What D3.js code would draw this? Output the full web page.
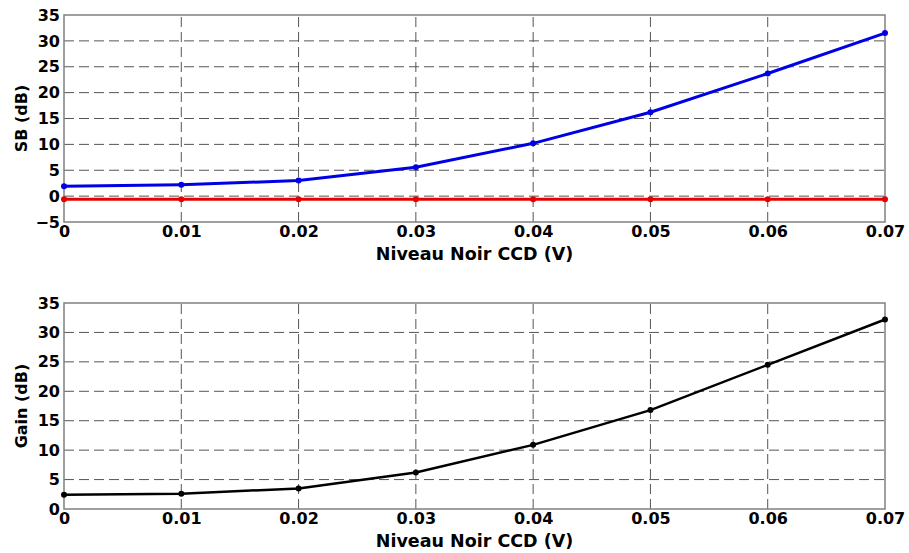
<!DOCTYPE html>
<html>
<head>
<meta charset="utf-8">
<script src="https://cdn.jsdelivr.net/npm/d3@7"></script>
<style>
  body { margin: 0; background: #fff; }
  svg { display: block; }
  text { font-family: "DejaVu Sans", Arial, sans-serif; font-weight: bold; }
</style>
</head>
<body>
<div id="chart"></div>
<script>
// Données
const niveauNoir = [0, 0.01, 0.02, 0.03, 0.04, 0.05, 0.06, 0.07];
const sbBleu = [1.9, 2.2, 3.0, 5.6, 10.2, 16.2, 23.7, 31.5];
const sbRouge = [-0.6, -0.6, -0.6, -0.6, -0.6, -0.6, -0.6, -0.6];
const gainNoir = [2.4, 2.6, 3.5, 6.2, 10.9, 16.8, 24.5, 32.2];
const xTicks = [0, 0.01, 0.02, 0.03, 0.04, 0.05, 0.06, 0.07];
const yTicksSB = [-5, 0, 5, 10, 15, 20, 25, 30, 35];
const yTicksGain = [0, 5, 10, 15, 20, 25, 30, 35];

const width = 909;
const height = 553;

const svg = d3.select("#chart")
    .append("svg")
    .attr("width", width)
    .attr("height", height);

function drawPanel(cfg) {
    const x = d3.scaleLinear().domain([0, 0.07]).range([64, 885]);
    const y = d3.scaleLinear().domain(cfg.yDomain).range([cfg.bottom, cfg.top]);
    const g = svg.append("g");

    // grille pointillée
    g.selectAll(".hgrid")
        .data(cfg.yTicks.filter(d => d !== cfg.yDomain[0] && d !== cfg.yDomain[1]))
        .enter()
        .append("line")
        .attr("x1", x(0)).attr("x2", x(0.07))
        .attr("y1", d => y(d)).attr("y2", d => y(d))
        .attr("stroke", "#555")
        .attr("stroke-width", 1)
        .attr("stroke-dasharray", "10,5");

    g.selectAll(".vgrid")
        .data(xTicks.slice(1, -1))
        .enter()
        .append("line")
        .attr("x1", d => x(d)).attr("x2", d => x(d))
        .attr("y1", y(cfg.yDomain[0])).attr("y2", y(cfg.yDomain[1]))
        .attr("stroke", "#555")
        .attr("stroke-width", 1)
        .attr("stroke-dasharray", "10,5");

    // cadre
    g.append("rect")
        .attr("x", x(0)).attr("y", cfg.top)
        .attr("width", x(0.07) - x(0))
        .attr("height", cfg.bottom - cfg.top)
        .attr("fill", "none")
        .attr("stroke", "#808080")
        .attr("stroke-width", 1.5);

    // axes
    const xAxis = g.append("g")
        .attr("transform", `translate(0,${cfg.bottom})`)
        .call(d3.axisBottom(x).tickValues(xTicks).tickSize(0).tickPadding(4)
            .tickFormat(d => d === 0 ? "0" : d3.format(".2f")(d)));
    const yAxis = g.append("g")
        .attr("transform", `translate(${x(0)},0)`)
        .call(d3.axisLeft(y).tickValues(cfg.yTicks).tickSize(0).tickPadding(4));
    [xAxis, yAxis].forEach(a => {
        a.select(".domain").remove();
        a.selectAll("text")
            .attr("font-size", "16px")
            .attr("font-weight", "bold")
            .attr("font-family", "'DejaVu Sans', Arial, sans-serif")
            .attr("fill", "#000");
    });

    g.append("text")
        .attr("x", (x(0) + x(0.07)) / 2)
        .attr("y", cfg.bottom + 38)
        .attr("text-anchor", "middle")
        .attr("font-size", "17.5px")
        .attr("fill", "#000")
        .text("Niveau Noir CCD (V)");

    g.append("text")
        .attr("transform", `translate(27,${(cfg.top + cfg.bottom) / 2}) rotate(-90)`)
        .attr("text-anchor", "middle")
        .attr("font-size", "16px")
        .attr("fill", "#000")
        .text(cfg.label);

    // séries
    const line = d3.line().x((d, i) => x(niveauNoir[i])).y(d => y(d));
    cfg.series.forEach(s => {
        g.append("path")
            .datum(s.values)
            .attr("d", line)
            .attr("fill", "none")
            .attr("stroke", s.color)
            .attr("stroke-width", s.width);
        g.selectAll(null)
            .data(s.values)
            .enter()
            .append("circle")
            .attr("cx", (d, i) => x(niveauNoir[i]))
            .attr("cy", d => y(d))
            .attr("r", 3)
            .attr("fill", s.color);
    });
}

drawPanel({
    top: 15, bottom: 222,
    yDomain: [-5, 35], yTicks: yTicksSB,
    label: "SB (dB)",
    series: [
        { values: sbBleu, color: "#0000e6", width: 3 },
        { values: sbRouge, color: "#e60000", width: 3 }
    ]
});

drawPanel({
    top: 303, bottom: 509,
    yDomain: [0, 35], yTicks: yTicksGain,
    label: "Gain (dB)",
    series: [
        { values: gainNoir, color: "#000", width: 2.5 }
    ]
});
</script>
</body>
</html>
